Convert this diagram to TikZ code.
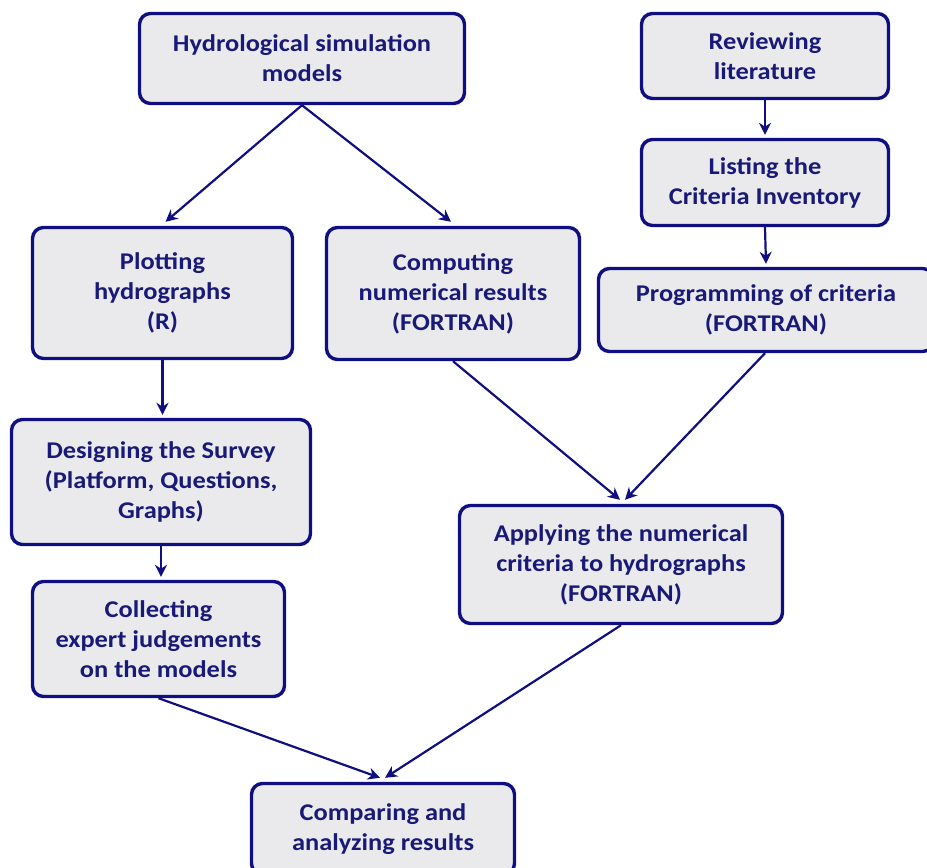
\documentclass[tikz,border=0pt]{standalone}
\usepackage{fontspec}
\setmainfont[FakeStretch=1.1]{Carlito}
\usetikzlibrary{arrows.meta}
\definecolor{navy}{RGB}{15,15,130}
\definecolor{txt}{RGB}{25,25,120}
\definecolor{boxfill}{RGB}{234,234,236}
\tikzset{
  box/.style={draw=navy, line width=3.4pt, fill=boxfill, rounded corners=11pt,
    align=center, text=txt, font=\fontsize{24}{30}\selectfont\bfseries, inner sep=0pt},
  conn/.style={draw=navy, line width=2.2pt, -{Stealth[length=12pt,width=12pt]}}
}
\begin{document}
\begin{tikzpicture}[x=1pt,y=-1pt]
\useasboundingbox (0,0) rectangle (927,868);
\node[box, minimum width=325pt, minimum height=90pt] (hydro) at (302,58.5) {Hydrological simulation\\models};
\node[box, minimum width=247pt, minimum height=85pt] (review) at (765,56) {Reviewing\\literature};
\node[box, minimum width=247pt, minimum height=86pt] (list) at (765,182.5) {Listing the\\Criteria Inventory};
\node[box, minimum width=260pt, minimum height=131pt] (plot) at (162.5,293) {Plotting\\hydrographs\\(R)};
\node[box, minimum width=253pt, minimum height=132pt] (comp) at (453,293.5) {Computing\\numerical results\\(FORTRAN)};
\node[box, minimum width=335pt, minimum height=83pt] (prog) at (766,310) {Programming of criteria\\(FORTRAN)};
\node[box, minimum width=299pt, minimum height=125pt] (design) at (161,482) {Designing the Survey\\(Platform, Questions,\\Graphs)};
\node[box, minimum width=252pt, minimum height=115pt] (collect) at (158.5,639) {Collecting\\expert judgements\\on the models};
\node[box, minimum width=323pt, minimum height=118pt] (apply) at (621,564.5) {Applying the numerical\\criteria to hydrographs\\(FORTRAN)};
\node[box, minimum width=263pt, minimum height=91pt] (compare) at (383,829) {Comparing and\\analyzing results};

\draw[conn] (hydro.south) -- ([xshift=3pt,yshift=4pt]plot.north);
\draw[conn] (hydro.south) -- ([xshift=-2pt,yshift=4pt]comp.north);
\draw[conn] (review.south) -- ([yshift=3pt]list.north);
\draw[conn] (list.south) -- ([yshift=3pt]prog.north);
\draw[conn] (plot.south) -- ([yshift=3pt]plot.south |- design.north);
\draw[conn] (design.south) -- ([yshift=3pt]design.south |- collect.north);
\draw[conn] (comp.south) -- ([xshift=-1pt,yshift=4pt]apply.north);
\draw[conn] ([xshift=-1pt]prog.south) -- ([xshift=4pt,yshift=4pt]apply.north);
\draw[conn] (collect.south) -- ([xshift=-3pt,yshift=4pt]compare.north);
\draw[conn] (apply.south) -- ([xshift=2pt,yshift=4pt]compare.north);
\end{tikzpicture}
\end{document}
